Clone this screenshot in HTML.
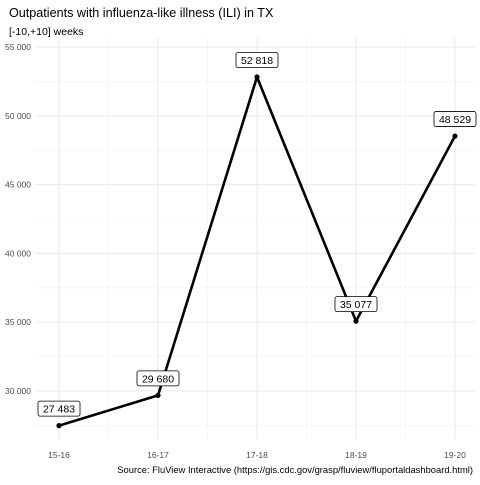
<!DOCTYPE html>
<html><head><meta charset="utf-8"><style>
body{margin:0;background:#fff;font-family:"Liberation Sans",sans-serif}
</style></head><body>
<svg id="c" width="480" height="480" xmlns="http://www.w3.org/2000/svg" font-family="Liberation Sans, sans-serif">
<rect width="480" height="480" fill="#fff"/>
<text x="9" y="17" font-size="12.6" fill="#000">Outpatients with influenza-like illness (ILI) in TX</text>
<text x="9" y="35" font-size="10.5" fill="#000">[-10,+10] weeks</text>
<text x="473" y="473" font-size="9.4" text-anchor="end" fill="#000">Source: FluView Interactive (https://gis.cdc.gov/grasp/fluview/fluportaldashboard.html)</text>
<g id="grid"></g><g id="axes"></g><g id="marks"></g>
</svg>
<script>
const categories=["15-16","16-17","17-18","18-19","19-20"];
const values=[27483,29680,52818,35077,48529];
const yTicks=[30000,35000,40000,45000,50000,55000];
const yTickLabels=["30 000","35 000","40 000","45 000","50 000","55 000"];
const valueLabels=["27 483","29 680","52 818","35 077","48 529"];
const NS="http://www.w3.org/2000/svg";
const L=35,R=475,T=38,B=440;
function x(i){return 59+i*99;}
function y(v){return 391-(v-30000)*68.8/5000;}
function mk(tag,attrs,parent){const e=document.createElementNS(NS,tag);for(const k in attrs)e.setAttribute(k,attrs[k]);parent.appendChild(e);return e;}
const grid=document.getElementById('grid'),axes=document.getElementById('axes'),marks=document.getElementById('marks');
for(let i=0;i<yTicks.length;i++){
  const v=yTicks[i]-2500;
  const ln=mk('line',{x1:L,x2:R,y1:y(v),y2:y(v),stroke:'#f0f0f0','stroke-width':0.6},grid);
  
  
}
for(let i=0;i<categories.length-1;i++){
  const xm=(x(i)+x(i+1))/2;
  const ln=mk('line',{x1:xm,x2:xm,y1:T,y2:B,stroke:'#f0f0f0','stroke-width':0.6},grid);
  
  
}
yTicks.forEach((v,i)=>{
  const ln=mk('line',{x1:L,x2:R,y1:y(v),y2:y(v),stroke:'#ebebeb','stroke-width':1.1},grid);
  
  
  const t=mk('text',{x:31,y:y(v)+3,'font-size':8.5,'text-anchor':'end',fill:'#4d4d4d'},axes);
  t.textContent=yTickLabels[i];
  
  
});
categories.forEach((c,i)=>{
  const ln=mk('line',{x1:x(i),x2:x(i),y1:T,y2:B,stroke:'#ebebeb','stroke-width':1.1},grid);
  
  
  const t=mk('text',{x:x(i),y:458,'font-size':8.5,'text-anchor':'middle',fill:'#4d4d4d'},axes);
  t.textContent=c;
  
  
});
const pts=values.map((v,i)=>x(i)+','+y(v)).join(' ');
const line=mk('polyline',{points:pts,fill:'none',stroke:'#000','stroke-width':2.6,'stroke-linejoin':'round'},marks);


values.forEach((v,i)=>{
  const p=mk('circle',{cx:x(i),cy:y(v),r:2.6,fill:'#000'},marks);
  
  
});
values.forEach((v,i)=>{
  const cx=x(i),cy=y(v)-17,w=42,h=15;
  const g=mk('g',{},marks);
  
  
  mk('rect',{x:cx-w/2,y:cy-h/2,width:w,height:h,rx:2,fill:'#fff',stroke:'#000','stroke-width':0.8},g);
  const t=mk('text',{x:cx,y:cy+4,'font-size':10.5,'text-anchor':'middle',fill:'#000'},g);
  t.textContent=valueLabels[i];
});
</script>
</body></html>
